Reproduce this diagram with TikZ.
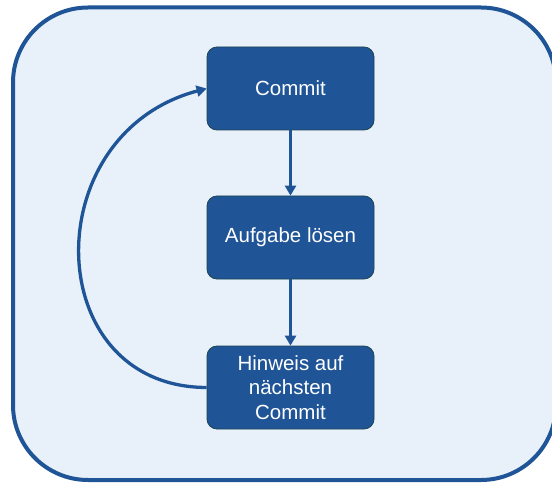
\documentclass[tikz,border=0pt]{standalone}
\usepackage{fontspec}
\setmainfont{Liberation Sans}
\usetikzlibrary{arrows.meta}
\definecolor{frameblue}{RGB}{31,84,151}
\definecolor{bgblue}{RGB}{232,241,249}
\definecolor{boxblue}{RGB}{31,84,151}
\definecolor{boxedge}{RGB}{28,68,80}
\tikzset{
  stepbox/.style={draw=boxedge, line width=0.8pt, fill=boxblue, rounded corners=10pt,
    minimum width=167pt, minimum height=83pt, text=white, align=center,
    font=\fontsize{20.5pt}{24.5pt}\selectfont, inner sep=0pt},
  flow/.style={draw=frameblue, line width=3.3pt, -{Triangle[length=10pt,width=11pt]}}
}
\begin{document}
\begin{tikzpicture}[x=1pt,y=-1pt]
\useasboundingbox (0,0) rectangle (552,484);
\draw[draw=frameblue, fill=bgblue, line width=4pt, rounded corners=75pt] (13,7.5) rectangle (556,480);
\node[stepbox] (commit) at (290.5,88.5) {Commit};
\node[stepbox] (aufgabe) at (290.5,237.5) {Aufgabe lösen};
\node[stepbox] (hinweis) at (290.5,387.5) {Hinweis auf\\nächsten\\Commit};
\draw[flow] (commit) -- (aufgabe);
\draw[flow] (aufgabe) -- (hinweis);
\draw[flow] (hinweis.west) .. controls (40,387) and (35,134) .. (commit.west);
\end{tikzpicture}
\end{document}
